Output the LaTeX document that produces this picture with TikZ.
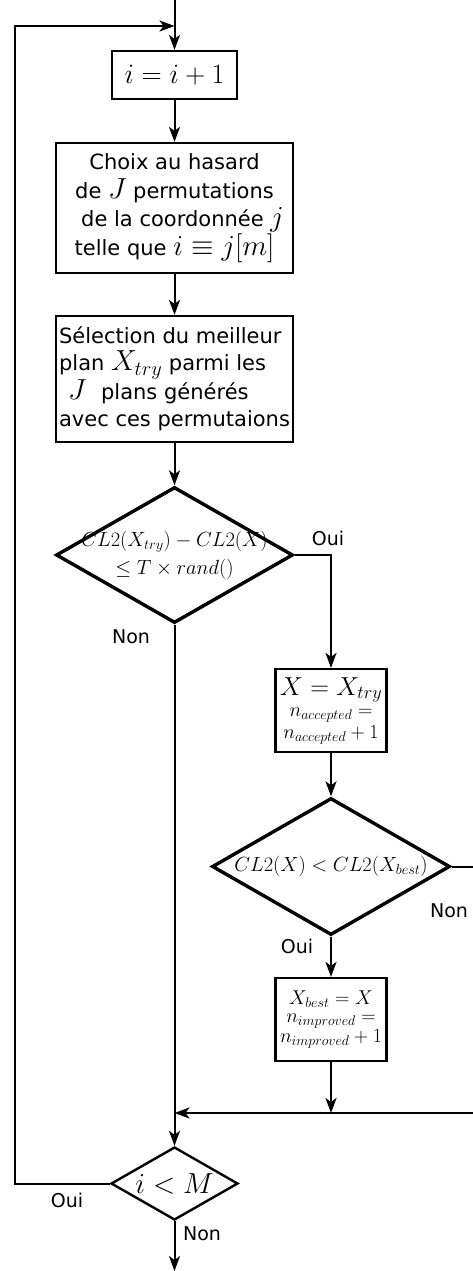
\RequirePackage{fix-cm}
\documentclass[tikz,border=0pt]{standalone}
\usepackage[no-math]{fontspec}
\setmainfont{DejaVu Sans}
\usetikzlibrary{shapes.geometric,arrows.meta}
\newcommand{\MathL}[1]{{\fontsize{29}{28}\selectfont$#1$}}
\newcommand{\MathM}[1]{{\fontsize{26}{22}\selectfont$#1$}}
\newcommand{\MathS}[1]{{\fontsize{20}{18}\selectfont$#1$}}
\begin{document}
\begin{tikzpicture}[x=1pt,y=-1pt,
  box/.style={draw, rectangle, line width=2.2pt, inner sep=0pt, align=center},
  cond/.style={draw, diamond, inner sep=0pt, line width=3.4pt},
  condtext/.style={inner sep=0pt, align=center, font=\fontsize{20.5}{28}\selectfont},
  conn/.style={line width=2pt},
  arr/.style={conn, -{Stealth[length=15pt,width=11pt,inset=4pt]}},
  lab/.style={inner sep=0pt, font=\fontsize{19}{20}\selectfont}]
\useasboundingbox (0,0) rectangle (472,1271);

% nodes
\node[box, minimum width=125pt, minimum height=48pt] (b1) at (174.5,75)
  {{\fontsize{28}{28}\selectfont$i=i+1$}};
\node[box, minimum width=237pt, minimum height=130pt, font=\fontsize{21}{28.5}\selectfont] (b2) at (174.5,208)
  {Choix au hasard\\ de \MathL{J} permutations\\ \hspace*{16pt}de la coordonnée \MathL{j}\\ telle que \MathL{i\equiv j[m]}};
\node[box, minimum width=237pt, minimum height=126pt, align=left,
  font=\fontsize{21}{27}\selectfont] (b3) at (174.5,379)
  {Sélection du meilleur\\ plan \MathL{X_{try}} parmi les\\ \hspace*{9pt}\MathL{J}\hspace{8pt} plans générés\\ avec ces permutaions};
\node[cond, minimum width=237pt, minimum height=136pt] (d1) at (174.5,555) {};
\node[condtext] (d1t) at (d1.center) {$CL2(X_{try})-CL2(X)$\\ $\leq T\times rand()$};
\node[box, minimum width=111pt, minimum height=83pt, font=\fontsize{20}{21.5}\selectfont] (b4) at (331,710.5)
  {\MathM{X=X_{try}}\\ \MathS{n_{accepted}=}\\ \MathS{n_{accepted}+1}};
\node[cond, minimum width=238pt, minimum height=137pt] (d2) at (331,866.5) {};
\node[condtext] (d2t) at (d2.center) {$CL2(X)<CL2(X_{best})$};
\node[box, minimum width=111pt, minimum height=83pt, font=\fontsize{20}{18.5}\selectfont] (b5) at (331,1019.5)
  {\MathS{X_{best}=X}\\ \MathS{n_{improved}=}\\ \MathS{n_{improved}+1}};
\node[cond, minimum width=127pt, minimum height=73pt, line width=2.4pt] (d3) at (174.5,1183.5) {};
\node[inner sep=0pt] (d3t) at (d3.center) {{\fontsize{29}{28}\selectfont$i<M$}};

% coordinates
\coordinate (start) at (174.5,0);
\coordinate (entry) at (174.5,26);
\coordinate (lt) at (15,26);
\coordinate (join) at (174.5,1113);
\coordinate (rt) at (480,866.5);
\coordinate (rb) at (480,1113);
\coordinate (out) at (174.5,1271);

% connectors
\draw[arr] (start) -- (b1.north);
\draw[arr] (b1.south) -- (b2.north);
\draw[arr] (b2.south) -- (b3.north);
\draw[arr] (b3.south) -- (d1.north);
\draw[arr] (d1.east) -| (b4.north);
\draw[arr] (b4.south) -- (d2.north);
\draw[arr] (d2.south) -- (b5.north);
\draw[conn] (d2.east) -- (rt) -- (rb);
\draw[arr] (rb) -- (join);
\draw[arr] (b5.south) -- (b5.south |- join);
\draw[arr] (d1.south) -- (d3.north);
\draw[arr] (d3.west) -| (lt) -- (entry);
\draw[arr] (d3.south) -- (out);

% labels
\node[lab] (l1) at (328,538) {Oui};
\node[lab] (l2) at (131,637) {Non};
\node[lab] (l3) at (449,911) {Non};
\node[lab] (l4) at (297,946) {Oui};
\node[lab] (l5) at (67,1200) {Oui};
\node[lab] (l6) at (202,1234) {Non};
\end{tikzpicture}
\end{document}
